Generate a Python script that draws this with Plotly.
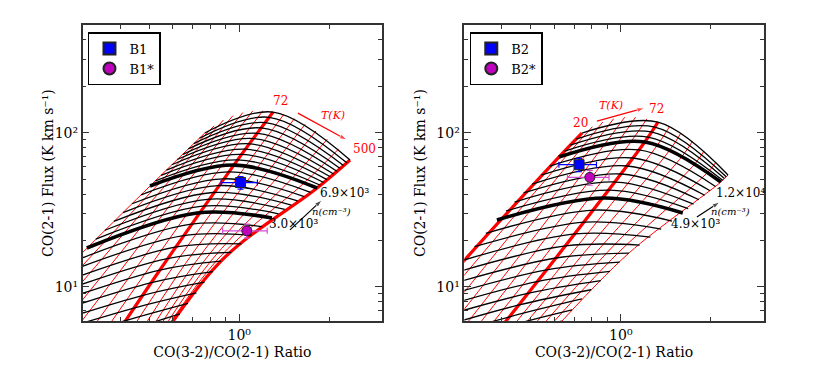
import numpy as np
import plotly.graph_objects as go

# log10 values read off the two LVG model grids (log-log axes)
# density tracks (black): position at the coldest, 72 K and hottest temperature
b1_cold_x = [-1.180, -1.135, -1.090, -1.046, -1.001, -0.956, -0.911, -0.867, -0.822, -0.777, -0.733,
             -0.688, -0.643, -0.598, -0.554, -0.509, -0.479, -0.449, -0.419, -0.388, -0.358, -0.328,
             -0.298, -0.280, -0.261, -0.243, -0.225, -0.207, -0.188, -0.170, -0.152, -0.133, -0.115]
b1_cold_y = [-0.053, 0.034, 0.121, 0.208, 0.295, 0.382, 0.469, 0.556, 0.643, 0.730, 0.817,
             0.904, 0.991, 1.078, 1.165, 1.252, 1.309, 1.367, 1.424, 1.482, 1.539, 1.597,
             1.654, 1.688, 1.723, 1.757, 1.792, 1.826, 1.860, 1.895, 1.929, 1.964, 1.998]
b1_mid_x = [-0.545, -0.517, -0.489, -0.461, -0.433, -0.405, -0.377, -0.349, -0.321, -0.293, -0.265,
            -0.240, -0.215, -0.191, -0.166, -0.141, -0.123, -0.106, -0.088, -0.071, -0.053, -0.035,
            -0.018, -0.005, 0.008, 0.021, 0.034, 0.048, 0.061, 0.074, 0.087, 0.100, 0.113]
b1_mid_y = [0.298, 0.378, 0.459, 0.539, 0.620, 0.700, 0.782, 0.864, 0.945, 1.027, 1.109,
            1.183, 1.257, 1.331, 1.405, 1.479, 1.523, 1.568, 1.612, 1.657, 1.701, 1.746,
            1.790, 1.824, 1.859, 1.893, 1.928, 1.962, 1.996, 2.031, 2.065, 2.100, 2.134]
b1_hot_x = [-0.332, -0.305, -0.278, -0.252, -0.225, -0.198, -0.171, -0.143, -0.116, -0.088, -0.061,
            -0.027, 0.007, 0.041, 0.075, 0.109, 0.131, 0.152, 0.174, 0.195, 0.217, 0.238,
            0.260, 0.271, 0.282, 0.293, 0.304, 0.315, 0.326, 0.337, 0.348, 0.359, 0.370]
b1_hot_y = [0.454, 0.528, 0.602, 0.676, 0.750, 0.824, 0.892, 0.961, 1.030, 1.098, 1.167,
            1.223, 1.279, 1.335, 1.391, 1.447, 1.474, 1.502, 1.530, 1.557, 1.585, 1.613,
            1.641, 1.659, 1.677, 1.696, 1.714, 1.732, 1.750, 1.768, 1.787, 1.805, 1.823]

# temperature tracks (red), sampled from lowest to highest density
b1_temps = [10, 14, 18, 24, 31, 41, 55, 72, 95, 125, 165, 218, 287, 379, 500]
b1_temp_x = [[-1.180, -0.733, -0.298, -0.115], [-1.063, -0.650, -0.258, -0.084],
             [-0.955, -0.572, -0.218, -0.053], [-0.856, -0.500, -0.178, -0.021],
             [-0.766, -0.433, -0.138, 0.012], [-0.683, -0.372, -0.098, 0.045],
             [-0.610, -0.316, -0.058, 0.079], [-0.545, -0.265, -0.018, 0.113],
             [-0.489, -0.220, 0.022, 0.148], [-0.441, -0.180, 0.062, 0.184],
             [-0.402, -0.145, 0.101, 0.220], [-0.372, -0.116, 0.141, 0.256],
             [-0.350, -0.092, 0.181, 0.294], [-0.337, -0.074, 0.220, 0.332],
             [-0.332, -0.061, 0.260, 0.370]]
b1_temp_y = [[-0.053, 0.817, 1.654, 1.998], [0.009, 0.873, 1.691, 2.045],
             [0.067, 0.924, 1.722, 2.082], [0.121, 0.971, 1.747, 2.111],
             [0.172, 1.013, 1.767, 2.131], [0.218, 1.050, 1.780, 2.141],
             [0.260, 1.082, 1.788, 2.142], [0.298, 1.109, 1.790, 2.134],
             [0.332, 1.132, 1.786, 2.117], [0.363, 1.150, 1.777, 2.091],
             [0.389, 1.163, 1.761, 2.055], [0.411, 1.171, 1.740, 2.011],
             [0.429, 1.174, 1.713, 1.958], [0.444, 1.174, 1.680, 1.895],
             [0.454, 1.167, 1.641, 1.823]]

b2_cold_x = [-0.905, -0.865, -0.825, -0.785, -0.748, -0.711, -0.674, -0.638, -0.601, -0.564, -0.526,
             -0.489, -0.451, -0.414, -0.384, -0.355, -0.325, -0.296, -0.266, -0.237, -0.207,
             -0.188, -0.169, -0.149, -0.130]
b2_cold_y = [0.291, 0.384, 0.477, 0.570, 0.656, 0.742, 0.827, 0.913, 0.999, 1.086, 1.173,
             1.260, 1.347, 1.434, 1.492, 1.550, 1.609, 1.667, 1.725, 1.784, 1.842,
             1.881, 1.920, 1.959, 1.998]
b2_mid_x = [-0.464, -0.434, -0.404, -0.374, -0.343, -0.311, -0.280, -0.248, -0.217, -0.185, -0.153,
            -0.120, -0.088, -0.056, -0.037, -0.017, 0.002, 0.022, 0.041, 0.061, 0.080,
            0.091, 0.102, 0.113, 0.124]
b2_mid_y = [0.583, 0.657, 0.730, 0.804, 0.881, 0.957, 1.034, 1.110, 1.187, 1.265, 1.343,
            1.420, 1.498, 1.576, 1.628, 1.680, 1.732, 1.784, 1.836, 1.888, 1.940,
            1.972, 2.005, 2.037, 2.069]
b2_hot_x = [-0.230, -0.197, -0.163, -0.130, -0.099, -0.067, -0.036, -0.004, 0.027, 0.063, 0.099,
            0.135, 0.171, 0.207, 0.225, 0.243, 0.261, 0.280, 0.298, 0.316, 0.334,
            0.340, 0.346, 0.352, 0.358]
b2_hot_y = [0.707, 0.778, 0.850, 0.921, 0.981, 1.040, 1.100, 1.160, 1.219, 1.271, 1.323,
            1.375, 1.427, 1.479, 1.508, 1.536, 1.565, 1.594, 1.623, 1.651, 1.680,
            1.691, 1.703, 1.714, 1.726]

b2_temps = [20, 24, 29, 35, 41, 50, 60, 72, 86, 103, 124, 149, 178, 214]
b2_temp_x = [[-0.905, -0.601, -0.207, -0.130], [-0.831, -0.540, -0.167, -0.095],
             [-0.761, -0.480, -0.126, -0.060], [-0.694, -0.423, -0.085, -0.024],
             [-0.631, -0.368, -0.044, 0.013], [-0.572, -0.316, -0.003, 0.049],
             [-0.516, -0.265, 0.038, 0.087], [-0.464, -0.217, 0.080, 0.124],
             [-0.416, -0.171, 0.122, 0.162], [-0.371, -0.127, 0.164, 0.200],
             [-0.330, -0.085, 0.206, 0.239], [-0.293, -0.046, 0.249, 0.278],
             [-0.260, -0.008, 0.291, 0.318], [-0.230, 0.027, 0.334, 0.358]]
b2_temp_y = [[0.291, 0.999, 1.842, 1.998], [0.342, 1.036, 1.883, 2.039],
             [0.391, 1.069, 1.914, 2.070], [0.436, 1.100, 1.937, 2.091],
             [0.477, 1.126, 1.951, 2.101], [0.516, 1.150, 1.956, 2.101],
             [0.551, 1.170, 1.953, 2.090], [0.583, 1.187, 1.940, 2.069],
             [0.612, 1.201, 1.919, 2.038], [0.637, 1.211, 1.889, 1.996],
             [0.660, 1.218, 1.850, 1.944], [0.679, 1.222, 1.802, 1.882],
             [0.694, 1.222, 1.745, 1.809], [0.707, 1.219, 1.680, 1.726]]

# observed line ratios and fluxes
b1_names = ["B1", "B1*"]
b1_ratio = [1.01, 1.06]
b1_ratio_err = [0.14, 0.18]
b1_flux = [47.5, 23.1]
b1_flux_err = [4.5, 2.4]
b2_names = ["B2", "B2*"]
b2_ratio = [0.725, 0.788]
b2_ratio_err = [0.104, 0.125]
b2_flux = [62.0, 51.3]
b2_flux_err = [6.2, 5.7]

panels = [
    dict(cold=(b1_cold_x, b1_cold_y), mid=(b1_mid_x, b1_mid_y), hot=(b1_hot_x, b1_hot_y),
         tx=b1_temp_x, ty=b1_temp_y, temps=b1_temps, thick_n=[15, 22], thick_t=[72, 500],
         xa="x", ya="y", legend="legend", names=b1_names, ratio=b1_ratio, ratio_err=b1_ratio_err,
         flux=b1_flux, flux_err=b1_flux_err),
    dict(cold=(b2_cold_x, b2_cold_y), mid=(b2_mid_x, b2_mid_y), hot=(b2_hot_x, b2_hot_y),
         tx=b2_temp_x, ty=b2_temp_y, temps=b2_temps, thick_n=[13, 20], thick_t=[20, 72],
         xa="x2", ya="y2", legend="legend2", names=b2_names, ratio=b2_ratio, ratio_err=b2_ratio_err,
         flux=b2_flux, flux_err=b2_flux_err),
]

fig = go.Figure()
for p in panels:
    common = dict(mode="lines", xaxis=p["xa"], yaxis=p["ya"], showlegend=False, hoverinfo="skip")
    order = [k for k, t in enumerate(p["temps"]) if t not in p["thick_t"]] + \
            [k for k, t in enumerate(p["temps"]) if t in p["thick_t"]]
    for k in order:
        w = 3.2 if p["temps"][k] in p["thick_t"] else 1
        fig.add_trace(go.Scatter(x=np.power(10.0, p["tx"][k]), y=np.power(10.0, p["ty"][k]),
                                 line=dict(color="red", width=w, shape="spline"), **common))
    for i in range(len(p["cold"][0])):
        xs = [p["cold"][0][i], p["mid"][0][i], p["hot"][0][i]]
        ys = [p["cold"][1][i], p["mid"][1][i], p["hot"][1][i]]
        w = 3.6 if i in p["thick_n"] else 1.3
        fig.add_trace(go.Scatter(x=np.power(10.0, xs), y=np.power(10.0, ys),
                                 line=dict(color="black", width=w, shape="spline"), **common))
    styles = [dict(symbol="square", color="#0000ff", err="#0000ff"),
              dict(symbol="circle", color="#bf00bf", err="#d24fd2")]
    for k in range(2):
        s = styles[k]
        fig.add_trace(go.Scatter(
            x=[p["ratio"][k]], y=[p["flux"][k]], mode="markers", name=p["names"][k],
            marker=dict(symbol=s["symbol"], size=10, color=s["color"], line=dict(color="#222", width=1)),
            error_x=dict(type="data", array=[p["ratio_err"][k]], color=s["err"], thickness=1.2, width=3),
            error_y=dict(type="data", array=[p["flux_err"][k]], color=s["err"], thickness=1.2, width=3),
            xaxis=p["xa"], yaxis=p["ya"], legend=p["legend"], hoverinfo="x+y+name"))

# direction arrows for T(K) and n(cm^-3)
arrows = [
    ("x", "y", 1.57, 134, 2.29, 89.7, "red"),
    ("x", "y", 1.477, 23.4, 1.89, 36.6, "black"),
    ("x2", "y2", 0.832, 119, 1.20, 144.6, "red"),
    ("x2", "y2", 1.795, 28.4, 2.14, 35.5, "black"),
]
for xr, yr, x0, y0, x1, y1, c in arrows:
    fig.add_trace(go.Scatter(x=[x0, x1], y=[y0, y1], mode="lines+markers", xaxis=xr, yaxis=yr,
                             line=dict(color=c, width=1.2),
                             marker=dict(symbol="arrow", size=[0, 8], angleref="previous", color=c),
                             showlegend=False, hoverinfo="skip"))

font = "DejaVu Serif"
axis_common = dict(type="log", showgrid=False, zeroline=False, showline=True, linecolor="#333",
                   linewidth=1.5, mirror="allticks", ticks="inside", ticklen=7, tickwidth=1,
                   tickcolor="#333", automargin=False, tickfont=dict(family=font, size=14, color="black"))
xminor = [0.3, 0.4, 0.5, 0.6, 0.7, 0.8, 0.9, 2, 3]
yminor = [6, 7, 8, 9, 20, 30, 40, 50, 60, 70, 80, 90, 200, 300, 400]
for xa, dom, anchor in [("xaxis", [0.0996, 0.4604], "y"), ("xaxis2", [0.5594, 0.9201], "y2")]:
    fig.update_layout({xa: dict(axis_common, domain=dom, anchor=anchor, range=[np.log10(0.3), np.log10(3)],
                                tickvals=[1], ticktext=["10\u2070"],
                                minor=dict(tickvals=xminor, ticks="inside", ticklen=4, tickcolor="#333"),
                                title=dict(text="CO(3-2)/CO(2-1) Ratio", standoff=6,
                                           font=dict(family=font, size=14, color="black")))})
for ya, anchor in [("yaxis", "x"), ("yaxis2", "x2")]:
    fig.update_layout({ya: dict(axis_common, domain=[0.1301, 0.9322], anchor=anchor,
                                range=[np.log10(6), np.log10(500)],
                                tickvals=[10, 100], ticktext=["10\u00b9", "10\u00b2"],
                                minor=dict(tickvals=yminor, ticks="inside", ticklen=4, tickcolor="#333"))})

# y-axis titles placed like the original figure
for xpos in [0.0458, 0.506]:
    fig.add_annotation(xref="paper", yref="paper", x=xpos, y=0.531, textangle=-90, showarrow=False,
                       text="CO(2-1) Flux (K km s\u207b\u00b9)", font=dict(family=font, size=14, color="black"))

leg = dict(font=dict(family=font, size=13, color="black"), bordercolor="black", borderwidth=1.5,
           bgcolor="white", xanchor="left", yanchor="top", itemsizing="constant", tracegroupgap=0)
fig.update_layout(legend=dict(leg, x=0.106, y=0.913), legend2=dict(leg, x=0.566, y=0.913))

red_f = dict(family=font, size=12, color="red")
blk_f = dict(family=font, size=12, color="black")
red_i = dict(red_f, size=11, style="italic")
blk_i = dict(blk_f, size=10, style="italic")
ann = [
    ("x", "y", 1.37, 160, "72", red_f),
    ("x", "y", 2.06, 130, "T(K)", red_i),
    ("x", "y", 2.62, 78, "500", red_f),
    ("x", "y", 2.25, 40.6, "6.9\u00d710\u00b3", blk_f),
    ("x", "y", 2.03, 31, "n(cm\u207b\u00b3)", blk_i),
    ("x", "y", 1.52, 25.6, "3.0\u00d710\u00b3", blk_f),
    ("x2", "y2", 0.736, 116, "20", red_f),
    ("x2", "y2", 0.927, 151, "T(K)", red_i),
    ("x2", "y2", 1.32, 143, "72", red_f),
    ("x2", "y2", 2.51, 40.6, "1.2\u00d710\u2074", blk_f),
    ("x2", "y2", 2.32, 31, "n(cm\u207b\u00b3)", blk_i),
    ("x2", "y2", 1.77, 25.6, "4.9\u00d710\u00b3", blk_f),
]
for xr, yr, x, y, t, f in ann:
    fig.add_annotation(xref=xr, yref=yr, x=np.log10(x), y=np.log10(y), text=t, showarrow=False, font=f)

fig.update_layout(width=830, height=369, margin=dict(l=0, r=0, t=0, b=0),
                  plot_bgcolor="white", paper_bgcolor="white")
fig.write_html("out.html", config={"displayModeBar": False},
               post_script="document.body.style.margin='0px';")
